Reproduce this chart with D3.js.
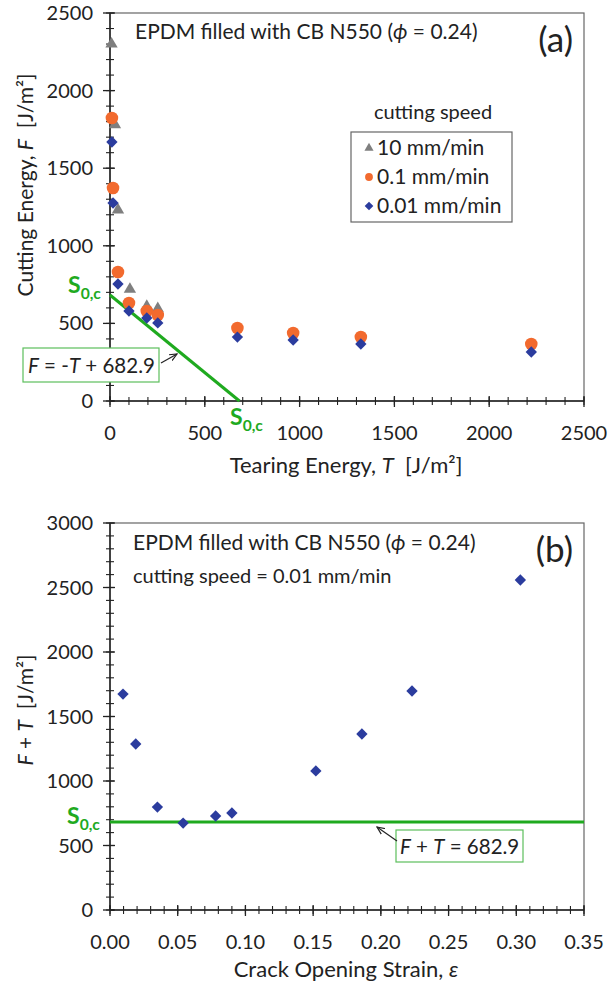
<!DOCTYPE html>
<html>
<head>
<meta charset="utf-8">
<title>Cutting energy vs tearing energy</title>
<style>
  body { margin: 0; background: #fff; }
  text { font-family: Lato, "Open Sans", sans-serif; fill: #222; }
  .green { fill: #1faa1f; font-weight: bold; }
</style>
</head>
<body>
<svg width="611" height="987"></svg>
<script src="https://d3js.org/d3.v7.min.js"></script>
<script>
// ---- data, panel (a) : tearing energy T vs cutting energy F
var tearFast = [8, 26, 42, 105, 194, 252];           // 10 mm/min
var cutFast  = [2300, 1780, 1231, 720, 610, 595];
var tearMid  = [10, 16, 42, 100, 194, 252, 672, 966, 1323, 2222];   // 0.1 mm/min
var cutMid   = [1823, 1372, 831, 631, 580, 554, 470, 438, 412, 367];
var tearSlow = [10, 16, 42, 100, 194, 252, 672, 966, 1323, 2222];   // 0.01 mm/min
var cutSlow  = [1669, 1276, 754, 580, 535, 503, 412, 393, 367, 316];
var s0c = 682.9;

// ---- data, panel (b) : crack opening strain vs F + T (0.01 mm/min)
var strain = [0.0096, 0.019, 0.035, 0.054, 0.078, 0.090, 0.152, 0.186, 0.223, 0.303];
var sumFT  = [1674, 1287, 798, 674, 729, 752, 1078, 1364, 1698, 2558];

var xTicksA = [0, 500, 1000, 1500, 2000, 2500];
var yTicksA = [0, 500, 1000, 1500, 2000, 2500];
var xTicksB = [0, 0.05, 0.10, 0.15, 0.20, 0.25, 0.30, 0.35];
var yTicksB = [0, 500, 1000, 1500, 2000, 2500, 3000];

var svg = d3.select("svg");
var green = "#1faa1f";
var cGray = "#7f7f7f", cOrange = "#f26a2e", cBlue = "#2b3c9e";
var nb = "\u00a0";

// arrow marker
svg.append("defs").append("marker")
    .attr("id", "arr")
    .attr("viewBox", "0 0 10 10")
    .attr("refX", 9).attr("refY", 5)
    .attr("markerWidth", 7).attr("markerHeight", 7)
    .attr("orient", "auto")
  .append("path")
    .attr("d", "M0,1 L9,5 L0,9")
    .attr("fill", "none")
    .attr("stroke", "#222")
    .attr("stroke-width", 1.4);

function drawFrame(x, y, xt, yt, xMinor, yMinor, fmt) {
  var x0 = x.range()[0], x1 = x.range()[1], y0 = y.range()[0], y1 = y.range()[1];
  var g = svg.append("g");
  g.append("rect")
    .attr("x", x0).attr("y", y1).attr("width", x1 - x0).attr("height", y0 - y1)
    .attr("fill", "none").attr("stroke", "#666").attr("stroke-width", 1.2);
  // minor + major ticks, crossing the axis lines
  g.selectAll(".mx").data(xMinor).enter().append("line")
    .attr("x1", function (d) { return x(d); }).attr("x2", function (d) { return x(d); })
    .attr("y1", y0 - 4).attr("y2", y0 + 4)
    .attr("stroke", "#222").attr("stroke-width", 1.1);
  g.selectAll(".my").data(yMinor).enter().append("line")
    .attr("y1", function (d) { return y(d); }).attr("y2", function (d) { return y(d); })
    .attr("x1", x0 - 4).attr("x2", x0 + 4)
    .attr("stroke", "#222").attr("stroke-width", 1.1);
  g.selectAll(".Mx").data(xt).enter().append("line")
    .attr("x1", function (d) { return x(d); }).attr("x2", function (d) { return x(d); })
    .attr("y1", y0 - 5).attr("y2", y0 + 6)
    .attr("stroke", "#222").attr("stroke-width", 1.3);
  g.selectAll(".My").data(yt).enter().append("line")
    .attr("y1", function (d) { return y(d); }).attr("y2", function (d) { return y(d); })
    .attr("x1", x0 - 7).attr("x2", x0 + 5)
    .attr("stroke", "#222").attr("stroke-width", 1.3);
  g.append("line").attr("x1", x0).attr("x2", x1).attr("y1", y0).attr("y2", y0)
    .attr("stroke", "#222").attr("stroke-width", 1.5);
  g.append("line").attr("x1", x0).attr("x2", x0).attr("y1", y0).attr("y2", y1)
    .attr("stroke", "#222").attr("stroke-width", 1.5);
  // labels
  g.selectAll(".lx").data(xt).enter().append("text")
    .attr("x", function (d) { return x(d); }).attr("y", y0 + 39)
    .attr("text-anchor", "middle").style("font-size", "20px")
    .text(fmt);
  g.selectAll(".ly").data(yt).enter().append("text")
    .attr("x", x0 - 17).attr("y", function (d) { return y(d) + 7; })
    .attr("text-anchor", "end").style("font-size", "20px")
    .text(function (d) { return d; });
}

function sLabel(x, y, size) {
  var t = svg.append("text").attr("x", x).attr("y", y).attr("class", "green")
    .style("font-size", size + "px");
  t.append("tspan").text("S");
  t.append("tspan").attr("dy", 6).style("font-size", (size * 0.68) + "px").text("0,c");
}

function titleLine(x, y) {
  var t = svg.append("text").attr("x", x).attr("y", y).style("font-size", "21px");
  t.append("tspan").text("EPDM filled with CB N550 (");
  t.append("tspan").style("font-style", "italic").text("\u03d5");
  t.append("tspan").text(nb + "= 0.24)");
}

var tri = d3.symbol().type(d3.symbolTriangle).size(66);
var dia = d3.symbol().type(d3.symbolDiamond2).size(82);

// ================= panel (a)
var xA = d3.scaleLinear().domain([0, 2500]).range([110, 584]);
var yA = d3.scaleLinear().domain([0, 2500]).range([401, 13]);
drawFrame(xA, yA, xTicksA, yTicksA, d3.range(0, 2501, 100), d3.range(0, 2501, 100),
  function (d) { return d; });

// green line F = -T + S0c
svg.append("line")
  .attr("x1", xA(0)).attr("y1", yA(s0c)).attr("x2", xA(s0c)).attr("y2", yA(0))
  .attr("stroke", green).attr("stroke-width", 3);

svg.append("g").selectAll("path").data(d3.zip(tearFast, cutFast)).enter().append("path")
  .attr("d", tri)
  .attr("transform", function (d) { return "translate(" + xA(d[0]) + "," + yA(d[1]) + ")"; })
  .attr("fill", cGray);
svg.append("g").selectAll("circle").data(d3.zip(tearMid, cutMid)).enter().append("circle")
  .attr("cx", function (d) { return xA(d[0]); }).attr("cy", function (d) { return yA(d[1]); })
  .attr("r", 6.3).attr("fill", cOrange);
svg.append("g").selectAll("path").data(d3.zip(tearSlow, cutSlow)).enter().append("path")
  .attr("d", dia)
  .attr("transform", function (d) { return "translate(" + xA(d[0]) + "," + yA(d[1]) + ")"; })
  .attr("fill", cBlue);

titleLine(135, 39);
svg.append("text").attr("x", 573).attr("y", 52).attr("text-anchor", "end")
  .style("font-size", "35px").text("(a)");

// legend
svg.append("text").attr("x", 433).attr("y", 119).attr("text-anchor", "middle")
  .style("font-size", "20px").text("cutting speed");
svg.append("rect").attr("x", 351).attr("y", 132).attr("width", 161).attr("height", 90)
  .attr("fill", "#fff").attr("stroke", "#666").attr("stroke-width", 1.2);
var legItems = [
  { label: "10 mm/min", color: cGray, shape: d3.symbolTriangle },
  { label: "0.1 mm/min", color: cOrange, shape: d3.symbolCircle },
  { label: "0.01 mm/min", color: cBlue, shape: d3.symbolDiamond2 }
];
legItems.forEach(function (d, i) {
  var cy = 148 + i * 29;
  svg.append("path").attr("d", d3.symbol().type(d.shape).size(i === 0 ? 36 : 48))
    .attr("transform", "translate(369," + cy + ")").attr("fill", d.color);
  svg.append("text").attr("x", 377).attr("y", cy + 7).style("font-size", "21px").text(d.label);
});

// S0,c labels
sLabel(68, 293, 23);
sLabel(230, 425, 23);

// annotation box
svg.append("rect").attr("x", 23).attr("y", 348).attr("width", 136).attr("height", 34)
  .attr("fill", "#fff").attr("stroke", "#5cbf5c").attr("stroke-width", 1.2);
var fa = svg.append("text").attr("x", 28).attr("y", 373).style("font-size", "20.5px");
fa.append("tspan").style("font-style", "italic").text("F");
fa.append("tspan").text(" = -");
fa.append("tspan").style("font-style", "italic").text("T");
fa.append("tspan").text(" + 682.9");
svg.append("line").attr("x1", 161).attr("y1", 363).attr("x2", 177).attr("y2", 354)
  .attr("stroke", "#222").attr("stroke-width", 1.2).attr("marker-end", "url(#arr)");

// axis titles
var xtA = svg.append("text").attr("x", 346).attr("y", 473).attr("text-anchor", "middle")
  .style("font-size", "22px");
xtA.append("tspan").text("Tearing Energy, ");
xtA.append("tspan").style("font-style", "italic").text("T");
xtA.append("tspan").text(nb + nb + "[J/m\u00b2]");
var ytA = svg.append("text").attr("transform", "translate(33,185) rotate(-90)")
  .attr("text-anchor", "middle").style("font-size", "21px");
ytA.append("tspan").text("Cutting Energy, ");
ytA.append("tspan").style("font-style", "italic").text("F");
ytA.append("tspan").text(nb + nb + "[J/m\u00b2]");

// ================= panel (b)
var xB = d3.scaleLinear().domain([0, 0.35]).range([110, 584]);
var yB = d3.scaleLinear().domain([0, 3000]).range([910, 523]);
drawFrame(xB, yB, xTicksB, yTicksB, d3.range(0, 36).map(function (i) { return i / 100; }),
  d3.range(0, 3001, 100), d3.format(".2f"));

svg.append("line")
  .attr("x1", xB(0)).attr("y1", yB(s0c)).attr("x2", xB(0.35)).attr("y2", yB(s0c))
  .attr("stroke", green).attr("stroke-width", 3);

svg.append("g").selectAll("path").data(d3.zip(strain, sumFT)).enter().append("path")
  .attr("d", dia)
  .attr("transform", function (d) { return "translate(" + xB(d[0]) + "," + yB(d[1]) + ")"; })
  .attr("fill", cBlue);

titleLine(133, 550);
svg.append("text").attr("x", 133).attr("y", 583).style("font-size", "20px")
  .text("cutting speed = 0.01 mm/min");
svg.append("text").attr("x", 573).attr("y", 562).attr("text-anchor", "end")
  .style("font-size", "35px").text("(b)");

sLabel(67, 824, 23);

svg.append("rect").attr("x", 396).attr("y", 830).attr("width", 127).attr("height", 32)
  .attr("fill", "#fff").attr("stroke", "#5cbf5c").attr("stroke-width", 1.2);
var fb = svg.append("text").attr("x", 400).attr("y", 854).style("font-size", "20.5px");
fb.append("tspan").style("font-style", "italic").text("F");
fb.append("tspan").text(" + ");
fb.append("tspan").style("font-style", "italic").text("T");
fb.append("tspan").text(" = 682.9");
svg.append("line").attr("x1", 397).attr("y1", 841).attr("x2", 377).attr("y2", 827)
  .attr("stroke", "#222").attr("stroke-width", 1.2).attr("marker-end", "url(#arr)");

var xtB = svg.append("text").attr("x", 346).attr("y", 977).attr("text-anchor", "middle")
  .style("font-size", "22px");
xtB.append("tspan").text("Crack Opening Strain, ");
xtB.append("tspan").style("font-style", "italic").text("\u03b5");
var ytB = svg.append("text").attr("transform", "translate(33,710) rotate(-90)")
  .attr("text-anchor", "middle").style("font-size", "21px");
ytB.append("tspan").style("font-style", "italic").text("F");
ytB.append("tspan").text(" + ");
ytB.append("tspan").style("font-style", "italic").text("T");
ytB.append("tspan").text(nb + nb + "[J/m\u00b2]");
</script>
</body>
</html>
